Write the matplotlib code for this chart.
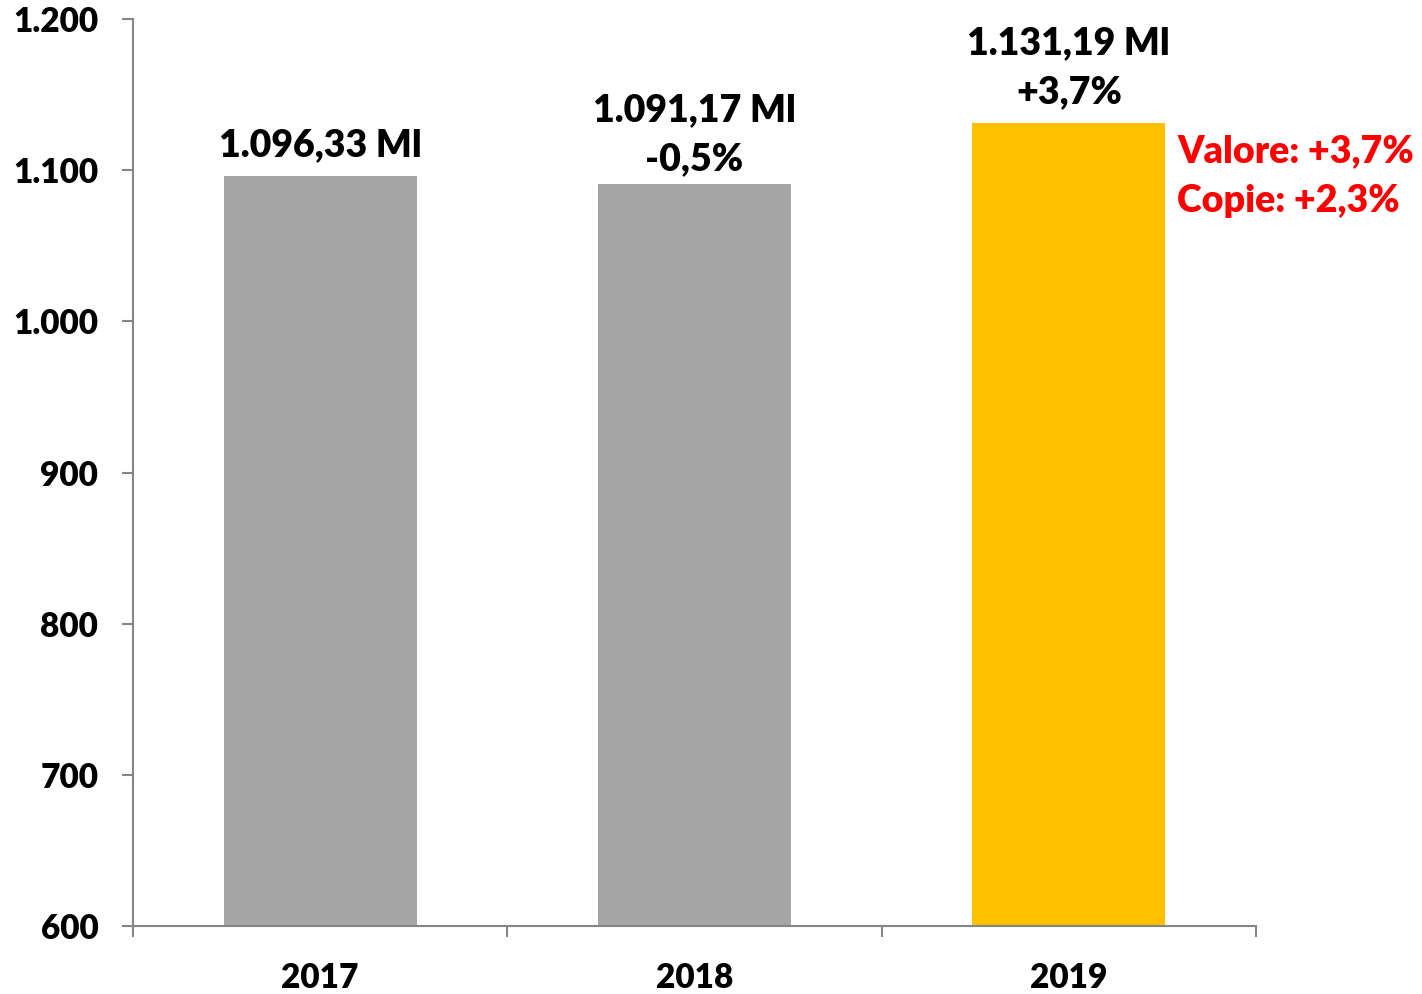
import numpy as np
import matplotlib.pyplot as plt

plt.rcParams['font.family'] = ['Lato', 'DejaVu Sans']
plt.rcParams['font.weight'] = 'heavy'

# Data
years = ['2017', '2018', '2019']
values = [1096.33, 1091.17, 1131.19]
value_labels = ['1.096,33 Ml', '1.091,17 Ml\n-0,5%', '1.131,19 Ml\n+3,7%']
colors = ['#A6A6A6', '#A6A6A6', '#FFC000']
y_ticks = [600, 700, 800, 900, 1000, 1100, 1200]
y_tick_labels = ['600', '700', '800', '900', '1.000', '1.100', '1.200']
note = 'Valore: +3,7%\nCopie: +2,3%'

fig = plt.figure(figsize=(14.22, 9.94), dpi=100)
ax = fig.add_axes([133 / 1422, 68 / 994, 1123 / 1422, 907 / 994])

x = np.arange(len(years))
ax.bar(x, values, width=0.516, color=colors, zorder=2)

ax.set_xlim(-0.5, 2.5)
ax.set_ylim(600, 1200)
ax.set_yticks(y_ticks)
ax.set_yticklabels(y_tick_labels)
ax.set_xticks(x)
ax.set_xticklabels(years)
ax.set_xticks([-0.5, 0.5, 1.5, 2.5], minor=True)

for s in ['top', 'right']:
    ax.spines[s].set_visible(False)
for s in ['left', 'bottom']:
    ax.spines[s].set_color('#868686')
    ax.spines[s].set_linewidth(1.5)

ax.tick_params(axis='y', length=8, width=1.5, color='#868686', labelsize=24, pad=17)
ax.tick_params(axis='x', which='major', length=0, labelsize=24, pad=26)
ax.tick_params(axis='x', which='minor', length=8, width=1.5, color='#868686')

# label offsets above each bar, in points
offsets = [10, 5, 10]
for i, (v, lab) in enumerate(zip(values, value_labels)):
    ax.annotate(lab, (x[i], v), xytext=(0, offsets[i]), textcoords='offset points',
                ha='center', va='bottom', fontsize=27,
                linespacing=1.55)

ax.annotate(note, (x[2] + 0.29, values[2]), xytext=(0, -8), textcoords='offset points',
            ha='left', va='top', fontsize=27, color='#FF0000',
            linespacing=1.55, annotation_clip=False)

fig.savefig('out.png', dpi=100)
